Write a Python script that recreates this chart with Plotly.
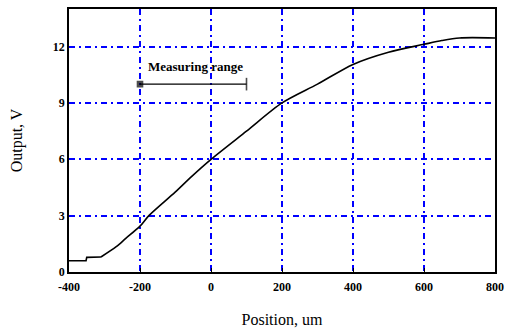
import plotly.graph_objects as go

# Data
flat_x = [-400, -352, -350, -310]
flat_y = [0.6, 0.6, 0.78, 0.8]
position_um = [-310, -267, -240, -200, -175, -101, -55, 0,
               100, 200, 300, 400, 500, 600, 650, 700, 800]
output_v = [0.8, 1.35, 1.79, 2.44, 3.0, 4.25, 5.08, 6.0,
            7.5, 9.0, 10.0, 11.05, 11.7, 12.12, 12.32, 12.46, 12.46]

range_x = [-200, 100]
range_y = [10, 10]
range_label = "<b>Measuring range</b>"

x_ticks = [-400, -200, 0, 200, 400, 600, 800]
y_ticks = [0, 3, 6, 9, 12]

serif = "Liberation Serif"

fig = go.Figure()
fig.add_trace(go.Scatter(x=flat_x, y=flat_y, mode="lines",
                         line=dict(color="black", width=1.6), showlegend=False))
fig.add_trace(go.Scatter(x=position_um, y=output_v, mode="lines",
                         line=dict(color="black", width=1.6, shape="spline", smoothing=0.8),
                         showlegend=False))
fig.add_trace(go.Scatter(x=range_x, y=range_y, mode="lines+markers",
                         line=dict(color="black", width=1.3),
                         marker=dict(symbol=["square", "line-ns"], size=[5, 9],
                                     color="black",
                                     line=dict(color="black", width=1.6)),
                         showlegend=False))
fig.add_annotation(x=-44, y=10.95, text=range_label, showarrow=False,
                   font=dict(family=serif, size=13, color="black"))

grid_style = dict(showgrid=True, gridcolor="#0000FF", gridwidth=1.5,
                  griddash="6px,4px,2px,4px")

fig.update_xaxes(range=[-400, 800], tickvals=x_ticks,
                 ticktext=[f"<b>{v}</b>" for v in x_ticks],
                 showline=True, linecolor="black", linewidth=1.5, mirror=True,
                 ticks="inside", ticklen=4, tickcolor="black",
                 zeroline=False, ticklabelstandoff=3,
                 tickfont=dict(family=serif, size=12, color="black"),
                 title=dict(text="Position, um", standoff=21,
                            font=dict(family=serif, size=16, color="black")),
                 **grid_style)
fig.update_yaxes(range=[0, 14], tickvals=y_ticks,
                 ticktext=[f"<b>{v}</b>" for v in y_ticks],
                 showline=True, linecolor="black", linewidth=1.5, mirror=True,
                 ticks="", zeroline=False,
                 tickfont=dict(family=serif, size=12, color="black"),
                 title=dict(text="Output, V", standoff=26,
                            font=dict(family=serif, size=16, color="black")),
                 **grid_style)

fig.update_layout(width=511, height=334,
                  margin=dict(l=69, r=10, t=7, b=62),
                  plot_bgcolor="white", paper_bgcolor="white")

fig.write_html("out.html")
